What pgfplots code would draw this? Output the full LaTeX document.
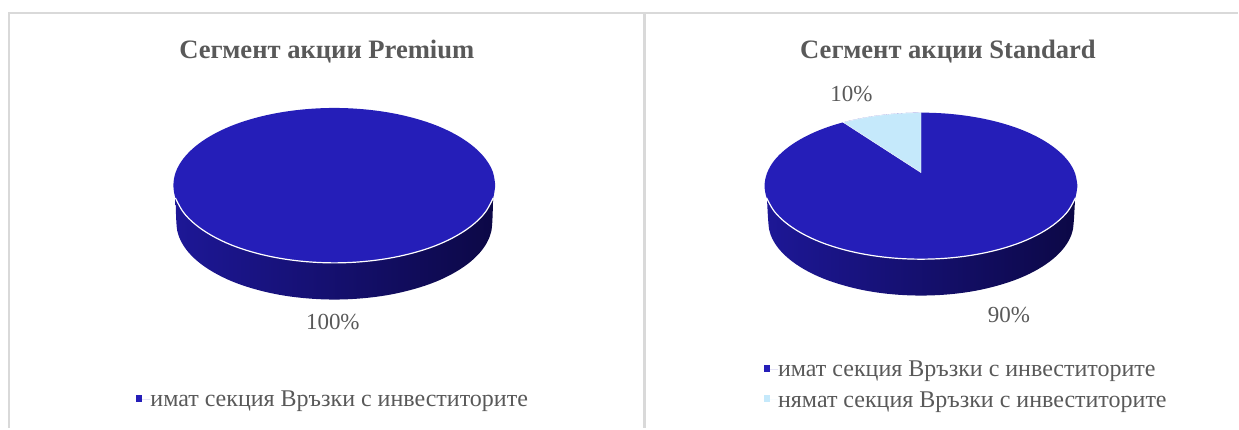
\documentclass[border=0pt]{standalone}
\usepackage{fontspec}
\setmainfont{Liberation Serif}
\usepackage{pgfplots}
\pgfplotsset{compat=1.18}
\definecolor{pieblue}{HTML}{251EB8}
\definecolor{pielight}{HTML}{C5E9FB}
\definecolor{wallL}{HTML}{1D1796}
\definecolor{wallM}{HTML}{17127A}
\definecolor{wallR}{HTML}{0C0846}
\definecolor{txt}{HTML}{595959}
\definecolor{framegray}{HTML}{D9D9D9}
\tikzset{lab/.style={font=\fontsize{23}{26}\selectfont, text=txt, inner sep=0pt}}
\pgfplotsset{
  pie/.style={scale only axis, height=428pt, ymin=0, ymax=428, y dir=reverse,
    clip=false, axis line style={draw=none}, ticks=none,
    title style={font=\fontsize{26.6}{30}\selectfont\bfseries, text=txt, anchor=center, inner sep=0pt},
    legend style={draw=none, fill=none, anchor=west, inner sep=0pt, outer sep=0pt,
      font=\fontsize{24}{27}\selectfont, text=txt,
      row sep=13pt,
      nodes={inner sep=0pt, text=txt}},
    legend cell align=left,
    legend image code/.code={\fill[##1] (0pt,-2pt) rectangle (6.5pt,4.5pt); \path (0pt,0pt) -- (14.5pt,0pt);},
  },
  wall/.style={draw=none, smooth, tension=0.6, left color=wallL, middle color=wallM, right color=wallR, forget plot, no markers},
  top/.style={draw=none, fill=pieblue, smooth, tension=0.6, forget plot, no markers},
  rim/.style={white, line width=1.2pt, smooth, tension=0.6, forget plot, no markers},
}
\begin{document}
\begin{tikzpicture}
\begin{axis}[pie, at={(0pt,0pt)}, width=642pt, xmin=0, xmax=642,
  title={Сегмент акции Premium}, title style={at={(327/642,370/428)}},
  legend style={at={(136/642,28/428)}}]
\addlegendimage{fill=pieblue, draw=none}
\addlegendentry{имат секция Връзки с инвеститорите}
% frame
\addplot[framegray, line width=1.3pt, forget plot, no markers] coordinates {(9,428) (9,13) (642,13)};
% side wall (100 %)
\addplot[wall] coordinates {
 (175.5,190) (176.5,223) (178.9,236.3) (186,249.2) (197.7,261.4) (213.5,272.3) (232.9,281.8) (255.5,289.4) (280.5,295.1) (307.1,298.5) (334.5,299.7)
 (361.9,298.5) (388.5,295.1) (413.5,289.4) (436.1,281.8) (455.5,272.3) (471.3,261.4) (483,249.2) (490.1,236.3) (492.5,223) (493.5,190)} -- cycle;
% top (100 %)
\addplot[top] coordinates {
 (495.5,185.5) (493.1,172) (485.8,159) (473.9,146.75) (457.8,135.7) (438,126.1) (415,118.4) (389.6,112.7) (362.4,109.2) (334.5,108)
 (306.6,109.2) (279.4,112.7) (254,118.4) (231,126.1) (211.2,135.7) (195.1,146.75) (183.2,159) (175.9,172) (173.5,185.5)
 (175.9,199) (183.2,212) (195.1,224.25) (211.2,235.3) (231,244.9) (254,252.6) (279.4,258.3) (306.6,261.8) (334.5,263)
 (362.4,261.8) (389.6,258.3) (415,252.6) (438,244.9) (457.8,235.3) (473.9,224.25) (485.8,212) (493.1,199) (495.5,185.5)};
\addplot[rim] coordinates {
 (175.5,198) (183.2,212) (195.1,224.25) (211.2,235.3) (231,244.9) (254,252.6) (279.4,258.3) (306.6,261.8) (334.5,263)
 (362.4,261.8) (389.6,258.3) (415,252.6) (438,244.9) (457.8,235.3) (473.9,224.25) (485.8,212) (493.5,198)};
\node[lab] at (axis cs:333,322) {100\%};
\end{axis}
\begin{axis}[pie, at={(642pt,0pt)}, width=597pt, xmin=642, xmax=1239,
  title={Сегмент акции Standard}, title style={at={(306.5/597,370/428)}},
  legend style={at={(122/597,43/428)}}]
\addlegendimage{fill=pieblue, draw=none}
\addlegendentry{имат секция Връзки с инвеститорите}
\addlegendimage{fill=pielight, draw=none}
\addlegendentry{нямат секция Връзки с инвеститорите}
% frame
\addplot[framegray, line width=1.3pt, forget plot, no markers] coordinates {(642,13) (1239,13)};
\addplot[framegray, line width=3pt, forget plot, no markers] coordinates {(645,428) (645,13)};
% side wall
\addplot[wall] coordinates {
 (767,190) (768.7,222) (771,234.8) (777.9,247.2) (789.2,258.85) (804.5,269.4) (823.3,278.5) (845.1,285.8) (869.2,291.3) (895,294.6) (921.5,295.7)
 (948,294.6) (973.8,291.3) (997.9,285.8) (1019.7,278.5) (1038.5,269.4) (1053.8,258.85) (1065.1,247.2) (1072,234.8) (1074.3,222) (1076,190)} -- cycle;
% top: the 90 % slice, as a whole ellipse that the 10 % slice covers
\addplot[top] coordinates {
 (1078,186) (1075.6,173.3) (1068.6,160.9) (1057,149.35) (1041.4,138.9) (1022.1,129.8) (999.75,122.5) (975,117.1) (948.7,113.8) (921.5,112.7)
 (894.3,113.8) (868,117.1) (843.25,122.5) (820.9,129.8) (801.6,138.9) (786,149.35) (774.4,160.9) (767.4,173.3) (765,186)
 (767.4,198.7) (774.4,211.1) (786,222.65) (801.6,233.1) (820.9,242.2) (843.25,249.5) (868,254.9) (894.3,258.2) (921.5,259.3)
 (948.7,258.2) (975,254.9) (999.75,249.5) (1022.1,242.2) (1041.4,233.1) (1057,222.65) (1068.6,211.1) (1075.6,198.7) (1078,186)};
% the 10 % slice
\addplot[draw=white, line width=0.4pt, fill=pielight, forget plot, no markers] coordinates {
 (921.5,172.7) (921.5,112.7) (907.9,113) (894.3,113.8) (881,115.2) (868,117.1) (855.4,119.6) (843.6,122.4)} -- cycle;
\addplot[rim] coordinates {
 (767,198) (774.4,211.1) (786,222.65) (801.6,233.1) (820.9,242.2) (843.25,249.5) (868,254.9) (894.3,258.2) (921.5,259.3)
 (948.7,258.2) (975,254.9) (999.75,249.5) (1022.1,242.2) (1041.4,233.1) (1057,222.65) (1068.6,211.1) (1076,198)};
\node[lab] at (axis cs:852,94) {10\%};
\node[lab] at (axis cs:1009.5,315) {90\%};
\end{axis}
\end{tikzpicture}
\end{document}
